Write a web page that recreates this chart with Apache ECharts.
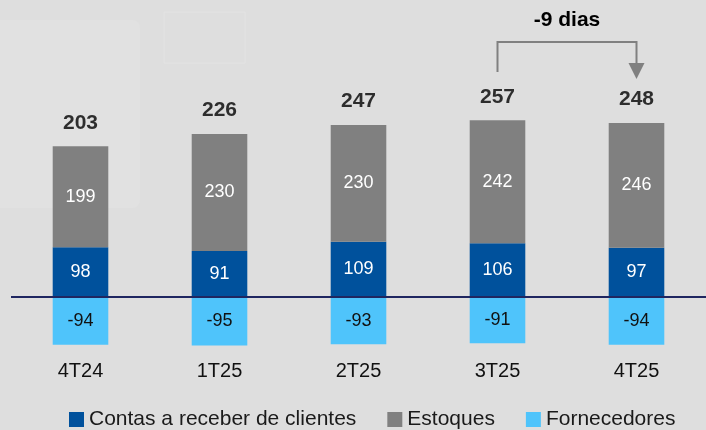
<!DOCTYPE html>
<html><head><meta charset="utf-8">
<script src="https://cdn.jsdelivr.net/npm/echarts@6/dist/echarts.min.js"></script>
<style>html,body{margin:0;padding:0;background:#dedede;}#c{width:706px;height:430px;}</style>
</head><body><div id="c"></div>
<script>
const categories = ['4T24', '1T25', '2T25', '3T25', '4T25'];
const receber = [98, 91, 109, 106, 97];
const estoques = [199, 230, 230, 242, 246];
const fornecedores = [-94, -95, -93, -91, -94];
const totals = [203, 226, 247, 257, 248];
const annotationText = '-9 dias';

const FONT = '"Liberation Sans", Arial, sans-serif';
const chart = echarts.init(document.getElementById('c'), null, {renderer: 'canvas'});
const stackTops = receber.map((v, i) => v + estoques[i]);

const bgGraphics = [
  {type: 'rect', shape: {x: -10, y: 20, width: 150, height: 188, r: 8},
    style: {fill: '#e1e1e1'}, z: -10, silent: true},
  {type: 'rect', shape: {x: 164, y: 12, width: 81, height: 51},
    style: {fill: 'none', stroke: '#e3e3e3', lineWidth: 1}, z: -10, silent: true}
];

const option = {
  backgroundColor: '#dedede',
  animation: false,
  grid: {left: 11, width: 706, top: 99, bottom: 77},
  legend: {
    top: 409, left: 69, padding: 0, itemWidth: 15, itemHeight: 15, itemGap: 31,
    icon: 'rect',
    textStyle: {fontFamily: FONT, fontSize: 21, color: '#1a1a1a'},
    data: ['Contas a receber de clientes', 'Estoques', 'Fornecedores']
  },
  xAxis: {
    type: 'category', data: categories,
    axisLine: {show: false, onZero: false}, axisTick: {show: false},
    axisLabel: {fontFamily: FONT, fontSize: 20, color: '#111', margin: 8}
  },
  yAxis: {type: 'value', min: -110, max: 390, show: false, splitLine: {show: false}},
  series: [
    {
      name: 'Contas a receber de clientes', type: 'bar', stack: 'a', data: receber,
      barWidth: '40%', itemStyle: {color: '#00519c'},
      label: {show: true, position: 'inside', color: '#fff', fontFamily: FONT, fontSize: 18},
      markLine: {silent: true, symbol: 'none', label: {show: false},
        lineStyle: {color: '#1f2660', width: 2, type: 'solid'}, data: [{yAxis: 0}]},
      z: 2
    },
    {
      name: 'Estoques', type: 'bar', stack: 'a', data: estoques,
      itemStyle: {color: '#808080'},
      label: {show: true, position: 'inside', color: '#fff', fontFamily: FONT, fontSize: 18}
    },
    {
      name: 'Fornecedores', type: 'bar', stack: 'a', data: fornecedores,
      itemStyle: {color: '#4fc4fb'},
      label: {show: true, position: 'inside', color: '#111', fontFamily: FONT, fontSize: 18}
    },
    {
      name: 'totais', type: 'scatter', data: stackTops, symbolSize: 0,
      label: {show: true, position: 'top', distance: 13, color: '#000', fontFamily: FONT,
        fontSize: 21, fontWeight: 'bold', formatter: p => totals[p.dataIndex]},
      z: 5
    }
  ],
  graphic: bgGraphics
};
chart.setOption(option);

const x1 = chart.convertToPixel({xAxisIndex: 0}, categories[3]);
const x2 = chart.convertToPixel({xAxisIndex: 0}, categories[4]);
chart.setOption({
  graphic: bgGraphics.concat([
    {type: 'polyline', shape: {points: [[x1, 72], [x1, 42], [x2, 42], [x2, 64]]},
      style: {stroke: '#808080', lineWidth: 2, fill: null}, z: 10},
    {type: 'polygon', shape: {points: [[x2 - 8, 63], [x2 + 8, 63], [x2, 79]]},
      style: {fill: '#808080'}, z: 10},
    {type: 'text', x: (x1 + x2) / 2, y: 20,
      style: {text: annotationText, fontFamily: FONT, fontSize: 21, fontWeight: 'bold',
        fill: '#000', align: 'center', verticalAlign: 'middle'}, z: 10}
  ])
}, {replaceMerge: ['graphic']});
</script></body></html>
